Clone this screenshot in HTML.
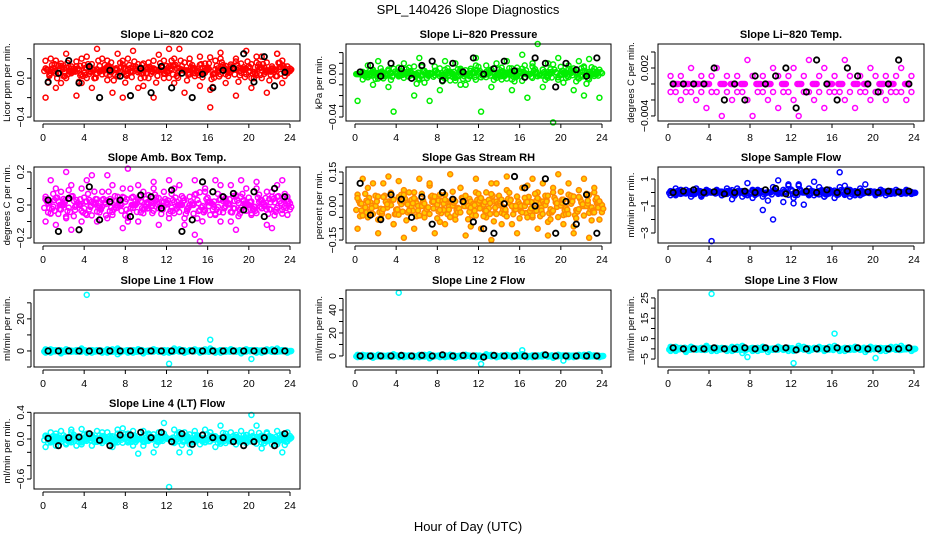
<!DOCTYPE html>
<html><head><meta charset="utf-8"><style>
body{margin:0;background:#fff}
svg text{font-family:"Liberation Sans",sans-serif}
</style></head><body>
<svg id="chart" width="936" height="540" xmlns="http://www.w3.org/2000/svg">
<rect width="936" height="540" fill="#fff"/>
<text x="468" y="14" text-anchor="middle" font-size="13">SPL_140426  Slope Diagnostics</text>
<text x="468" y="531" text-anchor="middle" font-size="13">Hour of Day (UTC)</text>
</svg>
<script>
const hoursA = [0.25,0.75,1.25,1.75,2.25,2.75,3.25,3.75,4.25,4.75,5.25,5.75,6.25,6.75,7.25,7.75,8.25,8.75,9.25,9.75,10.25,10.75,11.25,11.75,12.25,12.75,13.25,13.75,14.25,14.75,15.25,15.75,16.25,16.75,17.25,17.75,18.25,18.75,19.25,19.75,20.25,20.75,21.25,21.75,22.25,22.75,23.25,23.75];
const hoursBlack = [0.5,1.5,2.5,3.5,4.5,5.5,6.5,7.5,8.5,9.5,10.5,11.5,12.5,13.5,14.5,15.5,16.5,17.5,18.5,19.5,20.5,21.5,22.5,23.5];
const xTicks = [0,4,8,12,16,20,24];

const co2A = [0.1,0.2,-0.1,0.15,0.25,0.05,0.12,-0.05,0.22,0.1,0.3,0.08,0.18,-0.15,0.02,0.14,0.2,0.28,0.06,-0.08,0.16,0.1,0.24,0,0.12,0.2,0.3,0.08,0.15,0.05,0.22,0.1,-0.12,0.18,0.26,0.04,0.14,0.2,0.1,0.28,0,0.16,0.22,0.08,0.12,0.25,0.18,0.05];
const co2B = [-0.2,0.05,0.18,-0.05,0,0.12,-0.18,0.2,0,-0.1,0.05,0.2,-0.02,0.1,0.25,-0.2,0.05,0.12,-0.1,0.15,0,-0.2,0.08,0.18,0.3,-0.05,0.1,-0.15,0.2,0.02,-0.08,0.15,-0.3,0.05,0.2,-0.05,0.12,-0.18,0.15,0.04,-0.1,0.22,0,-0.15,0.1,0.25,-0.05,0.12];
const co2Black = [-0.04,0.05,0.18,-0.05,0.12,-0.2,0.08,0.02,-0.18,0.1,-0.15,0.12,-0.1,0.05,-0.2,0.04,-0.1,0.08,0.1,0.25,-0.04,0.22,-0.08,0.06];

const presA = [0,0.002,-0.003,0.004,0.001,-0.002,0.003,0.005,-0.001,0.002,0.006,0,-0.004,0.003,0.001,0.007,-0.002,0.004,0.002,-0.006,0.005,0,0.003,0.008,-0.003,0.002,0.004,-0.001,0.006,0.001,-0.005,0.003,0.005,0,0.007,-0.002,0.004,0.002,0.009,-0.003,0.001,0.005,0.003,-0.004,0.006,0.002,0,0.004];
const presB = [-0.025,-0.005,0.008,-0.01,0.012,-0.004,-0.012,-0.035,0.006,0.01,-0.002,-0.02,0.015,-0.008,-0.025,0.003,-0.015,0.012,-0.006,0.01,-0.01,-0.01,0.005,0.015,-0.035,0.008,-0.012,0.01,-0.005,0.012,-0.015,0.006,0.018,-0.022,0.01,0.028,-0.012,0.01,-0.045,0.015,-0.008,0.008,-0.015,0.012,-0.02,0.014,0.005,-0.022];
const presBlack = [0.002,0.008,-0.002,0.01,0.005,-0.004,0.008,0.012,-0.006,0.01,0.002,0.015,0,0.005,0.012,0.003,-0.003,0.015,0.01,-0.012,0.01,0.004,-0.002,0.015];

const tempA = [0.001,0,0.001,0,0.002,0,0.001,0,0.001,0.002,0,0.001,0,0.001,0,0.003,0.001,0,0.001,0,0.002,0.001,0,0.001,0.002,0,0.001,0.003,0,0.001,0.002,0,0.001,0,0.003,0.001,0,0.001,0,0.002,0.001,0,0.001,0,0.001,0.002,0,0.001];
const tempB = [-0.001,-0.001,-0.002,-0.001,-0.001,-0.002,-0.001,-0.003,-0.001,-0.001,-0.004,-0.001,-0.002,-0.001,-0.001,-0.002,-0.004,-0.001,-0.001,-0.002,-0.001,-0.003,-0.001,-0.001,-0.002,-0.004,-0.001,-0.001,-0.002,-0.001,-0.003,-0.001,-0.001,-0.001,-0.002,-0.001,-0.003,-0.001,-0.001,-0.002,-0.001,-0.001,-0.002,-0.001,-0.001,-0.001,-0.002,-0.001];
const tempBlack = [0,0,0,0,0.002,-0.002,0,-0.002,0.001,0,0.001,0.002,-0.003,-0.001,0.003,0,-0.002,0.002,0.001,0,-0.001,0,0.003,0];

const ambA = [0.05,-0.05,0.1,0,-0.08,0.12,0.03,-0.1,0.15,0.02,-0.04,0.08,0.18,-0.06,0.05,0.1,-0.1,0,0.12,-0.05,0.06,0.14,-0.02,0.08,-0.08,0.1,0,-0.12,0.05,0.15,-0.03,0.08,0.02,-0.06,0.12,0.04,-0.1,0.06,0.15,0,-0.05,0.1,0.03,-0.12,0.08,0.12,-0.03,0.05];
const ambB = [-0.1,0.15,-0.12,0.08,0.2,-0.15,0,0.1,-0.06,0.18,-0.1,0.03,-0.08,0.12,0,-0.14,0.22,0.05,-0.1,0.08,-0.02,0.1,-0.12,0.02,0.15,-0.05,0.12,-0.08,0,-0.18,-0.22,0.1,-0.06,0.15,-0.1,0.02,0.12,-0.15,0.05,0.1,-0.06,0.14,-0.02,0.08,-0.14,0.05,0.15,-0.06];
const ambBlack = [0.03,-0.16,0.04,-0.15,0.11,-0.09,0.02,0.03,-0.07,0.06,0.05,-0.02,0.09,-0.16,-0.09,0.14,0.08,0.05,0.07,-0.03,0.08,-0.07,0.1,0.05];

const rhA = [0.05,-0.03,0.08,0,-0.06,0.1,0.02,-0.08,0.04,0.07,-0.02,0.06,0,-0.05,0.09,0.03,-0.07,0.05,0.01,-0.04,0.08,0,-0.09,0.06,0.03,-0.05,0.1,0.02,-0.03,0.07,-0.08,0.04,0,0.09,-0.05,0.06,0.02,-0.07,0.08,0.01,-0.04,0.05,-0.09,0.07,0,-0.03,0.06,0.02];
const rhB = [-0.1,0.12,-0.05,0.1,-0.12,0.04,0.13,-0.08,0.11,-0.14,0.06,-0.1,0.12,-0.03,0.1,-0.12,0.05,-0.08,0.14,-0.06,0.08,-0.13,0.02,0.12,-0.1,0.06,-0.15,0.1,-0.08,0.13,0,-0.12,0.08,-0.05,0.12,-0.1,0.1,-0.13,0.06,0.14,-0.08,0.1,-0.12,0.04,0.12,-0.14,0.08,-0.06];
const rhBlack = [0.1,-0.04,-0.06,0.05,0.03,-0.05,0.04,-0.08,0.06,0.03,0.02,-0.07,-0.1,-0.12,0.01,0.13,0.08,0,0.12,-0.12,0.02,-0.08,0.05,-0.12];

const flowA = [0.1,-0.2,0.2,0,-0.1,0.3,-0.3,0.1,0,0.2,-0.2,0.1,-0.1,0.3,0,-0.2,0.2,0.1,-0.3,0,0.4,-0.1,0.2,0.6,-0.4,0.5,0,-0.2,0.8,0.1,-0.3,0.2,0,0.4,-0.1,0.2,-0.2,0.3,0,0.1,-0.2,0.2,0,-0.1,0.2,0,0.1,-0.1];
const flowB = [-0.2,0.3,-0.1,0.2,-0.3,0,-0.2,0.2,-3.6,0.1,-0.2,0.3,-0.5,0,-0.3,0.7,-0.4,0.2,-1.3,-0.6,-2.0,0.9,-0.7,0.5,-0.8,0.6,-0.9,0.3,-0.2,0.4,-0.3,0.2,-0.4,1.5,0.5,-0.3,0.1,-0.2,0.6,0,-0.1,0.2,-0.2,0.1,0,-0.1,0.2,-0.1];
const flowBlack = [0,0.1,0.2,0,0.05,-0.1,0,0.1,0,0.2,0.3,-0.1,0,0.1,0,0.2,0,0.1,0,0.05,0,0.1,0.05,0.1];

const l1A = [1,-1,0.5,-1.5,1,0,-0.5,1.5,-1,0.5,0,-1,1,-0.5,1.5,0,-1,0.5,1,-1.5,0,1,-0.5,0.5,-1,1.5,0,-1,0.5,1,-0.5,0,1.5,-1,0.5,-0.5,1,0,-1.5,1,0.5,-1,0,1,-0.5,1.5,0,-1];
const l1B = [-1,1,0,-1,1,-0.5,0.5,1,35,-1,0.5,0,-1,1,-2,0,0.5,-1,1,0,-0.5,1,0,-1,-8,0.5,1,-1,0,0.5,-1,1,7,0,-1,0.5,1,-0.5,0,1,-5,0.5,-1,0,1,-0.5,0.5,0];
const l1Black = [0,0,0,0,0,0,0,0,0,0,0,0,0,0,0,0,0,0,0,0,0,0,0,0];

const l2A = [1,-1,0.5,-1.5,1,0,-0.5,1.5,-1,0.5,0,-1,1,-0.5,1.5,0,-1,0.5,1,-1.5,0,1,-0.5,0.5,-1,1.5,0,-1,0.5,1,-0.5,0,1.5,-1,0.5,-0.5,1,0,-1.5,1,0.5,-1,0,1,-0.5,1.5,0,-1];
const l2B = [-1,1,0,-1,1,-0.5,0.5,1,55,-1,0.5,0,-1,1,-2,0,0.5,-1,1,0,-0.5,1,0,-1,-7,0.5,1,-1,0,0.5,-1,1,5,0,-1,0.5,1,-0.5,0,1,-4,0.5,-1,0,1,-0.5,0.5,0];
const l2Black = [0,0,0,0,0.5,0,0.5,0,1,0,0.5,0,-1,0.5,0,0,0,0,1,0,0,0,0,0];

const l3A = [1,-1,0.5,-1.5,1,0,-0.5,1.5,-1,0.5,0,-1,1,-0.5,1.5,0,-1,0.5,1,-1.5,0,1,-0.5,0.5,-1,1.5,0,-1,0.5,1,-0.5,0,1.5,-1,0.5,-0.5,1,0,-1.5,1,0.5,-1,0,1,-0.5,1.5,0,-1];
const l3B = [-1,1,0,-1,1,-0.5,0.5,1,27,-1,0.5,0,-1,1,-2,-4,0.5,-1,1,0,-0.5,1,0,-1,-7,0.5,1,-1,0,0.5,-1,1,7.5,0,-1,0.5,1,-0.5,0,1,-4.5,0.5,-1,0,1,-0.5,0.5,0];
const l3Black = [0.5,0,0,0,0.5,0,0,0.5,0,0.5,0,0.5,-0.5,0,0,0,0.5,0,0.5,0,0,0,0,0.5];

const l4A = [0.05,-0.05,0.08,0,-0.06,0.1,0.02,-0.08,0.04,0.06,-0.03,0.1,0,-0.07,0.08,0.03,-0.05,0.12,0,-0.1,0.06,0.02,-0.04,0.08,0,-0.06,0.1,0.04,-0.08,0.06,0,-0.05,0.1,0.02,-0.04,0.08,-0.02,0.06,0,-0.06,0.1,0.03,-0.05,0.08,0,-0.08,0.05,0.02];
const l4B = [-0.12,0.1,-0.1,0.12,-0.08,0.14,-0.1,0.15,0.08,-0.1,0.12,-0.06,0.1,-0.12,0.14,0.16,0.08,-0.1,-0.22,0.12,0.08,-0.2,0.1,0.24,-0.72,0.14,-0.2,0.1,-0.2,0.12,-0.08,0.14,0.1,-0.12,0.2,-0.06,0.1,-0.08,0.12,0.06,0.36,0.2,-0.14,0.1,-0.08,0.12,-0.2,0.1];
const l4Black = [0.01,-0.1,0.02,0.03,0.08,-0.02,-0.1,0.06,0.06,0.1,0.02,0.1,-0.04,0.08,-0.08,0.06,0.02,0.02,-0.04,-0.1,-0.04,0.02,-0.1,0.08];

const colX = [[34,300,43,290],[346,611,355,602],[658,924,668,914]];
const rowY = [[44,121],[167,243],[290,367],[413,489]];

const panels = [
 {name:'co2',title:'Slope Li\u2212820 CO2',yl:'Licor ppm per min.',c:0,r:0,ymin:-0.44,ymax:0.35,ticks:[-0.4,-0.2,0,0.2],labels:['\u22120.4','','0.0',''],col:'#ff0000',A:co2A,B:co2B,K:co2Black,typ:0.3,ctr:0.08},
 {name:'pressure',title:'Slope Li\u2212820 Pressure',yl:'kPa per min.',c:1,r:0,ymin:-0.0437,ymax:0.028,ticks:[-0.04,-0.03,-0.02,-0.01,0,0.01,0.02],labels:['\u22120.04','','','','0.00','',''],col:'#00ee00',A:presA,B:presB,K:presBlack,typ:0.02,ctr:0},
 {name:'temp',title:'Slope Li\u2212820 Temp.',yl:'degrees C per min.',c:2,r:0,ymin:-0.00463,ymax:0.005,ticks:[-0.004,-0.002,0,0.002,0.004],labels:['\u22120.004','','','0.002',''],col:'#ff00ff',A:tempA,B:tempB,K:tempBlack,typ:0,ctr:0},
 {name:'amb-box-temp',title:'Slope Amb. Box Temp.',yl:'degrees C per min.',c:0,r:1,ymin:-0.23,ymax:0.23,ticks:[-0.2,-0.1,0,0.1,0.2],labels:['\u22120.2','','0.0','','0.2'],col:'#ff00ff',A:ambA,B:ambB,K:ambBlack,typ:0.25,ctr:0},
 {name:'gas-stream-rh',title:'Slope Gas Stream RH',yl:'percent per min.',c:1,r:1,ymin:-0.163,ymax:0.172,ticks:[-0.15,-0.1,-0.05,0,0.05,0.1,0.15],labels:['\u22120.15','','','0.00','','','0.15'],col:'#ff8800',A:rhA,B:rhB,K:rhBlack,typ:0.2,ctr:0},
 {name:'sample-flow',title:'Slope Sample Flow',yl:'ml/min per min.',c:2,r:1,ymin:-3.74,ymax:1.89,ticks:[-3,-2,-1,0,1],labels:['\u22123','','\u22121','','1'],col:'#0000ff',A:flowA,B:flowB,K:flowBlack,typ:0.5,ctr:0},
 {name:'line1-flow',title:'Slope Line 1 Flow',yl:'ml/min per min.',c:0,r:2,ymin:-10,ymax:38,ticks:[-10,0,10,20,30],labels:['','0','','20',''],col:'#00ffff',A:l1A,B:l1B,K:l1Black,typ:2,ctr:0},
 {name:'line2-flow',title:'Slope Line 2 Flow',yl:'ml/min per min.',c:1,r:2,ymin:-9.6,ymax:57.4,ticks:[0,10,20,30,40,50],labels:['0','','20','','40',''],col:'#00ffff',A:l2A,B:l2B,K:l2Black,typ:2,ctr:0},
 {name:'line3-flow',title:'Slope Line 3 Flow',yl:'ml/min per min.',c:2,r:2,ymin:-8.9,ymax:28.9,ticks:[-5,0,5,10,15,20,25],labels:['\u22125','','5','','15','','25'],col:'#00ffff',A:l3A,B:l3B,K:l3Black,typ:2,ctr:0},
 {name:'line4-flow',title:'Slope Line 4 (LT) Flow',yl:'ml/min per min.',c:0,r:3,ymin:-0.75,ymax:0.39,ticks:[-0.6,-0.4,-0.2,0,0.2,0.4],labels:['\u22120.6','','','0.0','','0.4'],col:'#00ffff',A:l4A,B:l4B,K:l4Black,typ:0.2,ctr:0}
];

const svg = document.getElementById('chart');
const NS = 'http://www.w3.org/2000/svg';
function mk(tag, attrs, parent){
  const e = document.createElementNS(NS, tag);
  for (const k in attrs) e.setAttribute(k, attrs[k]);
  parent.appendChild(e);
  return e;
}
panels.forEach(p => {
  const [bx0,bx1,px0,px1] = colX[p.c];
  const [by0,by1] = rowY[p.r];
  const xs = h => px0 + (px1-px0)*h/24;
  const ys = v => by1 - (by1-by0)*(v-p.ymin)/(p.ymax-p.ymin);
  const g = mk('g', {}, svg);
  
  
  const t = mk('text', {x:(bx0+bx1)/2, y:by0-6, 'text-anchor':'middle','font-size':'11','font-weight':'bold'}, g);
  
  
  t.textContent = p.title;
  const yt = mk('text', {transform:`translate(${bx0-24},${(by0+by1)/2}) rotate(-90)`, 'text-anchor':'middle','font-size':'9.5'}, g);
  
  
  yt.textContent = p.yl;
  const pts = mk('g', {fill:'none','stroke-width':'1.5'}, g);
  
  
  const fillc = p.col==='#ff8800' ? '#ffcc00' : 'none';
  [p.A, p.B].forEach((arr,k) => arr.forEach((v,i) => {
    const c = mk('circle', {cx:xs(hoursA[i]), cy:ys(v), r:2.5, stroke:p.col, fill:fillc}, pts);
    
    
    if (Math.abs(v) <= p.typ) {
      [[1.3,0.45],[-1.3,-0.35],[2.6,0.2]].forEach(([dx,f]) => {
        const c2 = mk('circle', {cx:xs(hoursA[i])+dx+(k?1.2:0), cy:ys(p.ctr + (v-p.ctr)*f), r:2.5, stroke:p.col, fill:fillc}, pts);
        
        
      });
    }
  }));
  p.K.forEach((v,i) => {
    const c = mk('circle', {cx:xs(hoursBlack[i]), cy:ys(v), r:2.7, stroke:'#000','stroke-width':'1.8'}, pts);
    
    
  });
  const box = mk('rect', {x:bx0, y:by0, width:bx1-bx0, height:by1-by0, fill:'none', stroke:'#000', 'stroke-width':'1'}, g);
  
  
  const ax = mk('g', {stroke:'#000','stroke-width':'1'}, g);
  
  
  mk('line', {x1:xs(0), x2:xs(24), y1:by1+3, y2:by1+3}, ax);
  xTicks.forEach(h => {
    mk('line', {x1:xs(h), x2:xs(h), y1:by1+3, y2:by1+7}, ax);
    const l = mk('text', {x:xs(h), y:by1+20, 'text-anchor':'middle','font-size':'10.5', stroke:'none'}, ax);
    
    
    l.textContent = h;
  });
  const ay = mk('g', {stroke:'#000','stroke-width':'1'}, g);
  
  
  mk('line', {x1:bx0-3, x2:bx0-3, y1:ys(p.ticks[0]), y2:ys(p.ticks[p.ticks.length-1])}, ay);
  p.ticks.forEach((v,i) => {
    mk('line', {x1:bx0-7, x2:bx0-3, y1:ys(v), y2:ys(v)}, ay);
    if (p.labels[i]) {
      const l = mk('text', {transform:`translate(${bx0-10},${ys(v)}) rotate(-90)`, 'text-anchor':'middle','font-size':'10.5', stroke:'none'}, ay);
      
      
      l.textContent = p.labels[i];
    }
  });
});
</script>
</body></html>
